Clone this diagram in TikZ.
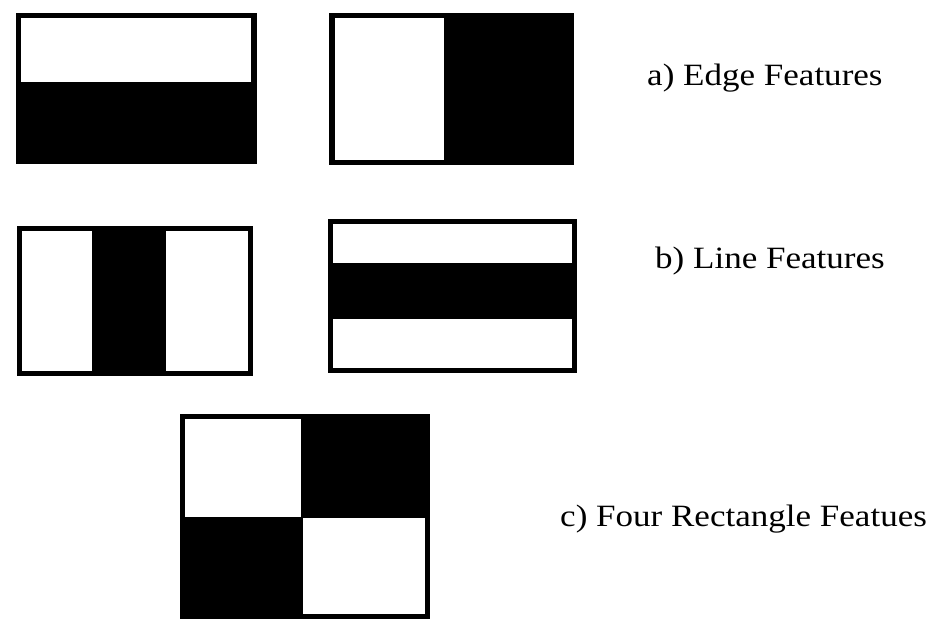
\documentclass[tikz,border=0pt]{standalone}
\usepackage{fontspec}
\setmainfont{Liberation Serif}
\tikzset{
  haarblack/.style={fill=black},
  haarwhite/.style={fill=white},
  haarlabel/.style={anchor=base west,inner sep=0pt,font=\fontsize{31}{36}\selectfont}
}
\newcommand{\widelbl}[1]{\scalebox{1.13}[1]{#1}}

\begin{document}
\begin{tikzpicture}[x=1pt,y=-1pt]
\useasboundingbox (0,0) rectangle (932,619);
% a) edge features
\fill[haarblack] (16,13) rectangle (257,164);
\fill[haarwhite] (21,18) rectangle (251,82);
\fill[haarblack] (329,13) rectangle (574,165);
\fill[haarwhite] (335,18) rectangle (444,160);
% b) line features
\fill[haarblack] (17,226) rectangle (253,376);
\fill[haarwhite] (22,231) rectangle (92,371);
\fill[haarwhite] (166,231) rectangle (248,371);
\fill[haarblack] (328,219) rectangle (577,373);
\fill[haarwhite] (333,224) rectangle (572,263);
\fill[haarwhite] (333,319) rectangle (572,368);
% c) four rectangle features
\fill[haarblack] (180,414) rectangle (430,619);
\fill[haarwhite] (185,419) rectangle (301,517);
\fill[haarwhite] (303,518) rectangle (425,614);
% labels
\node[haarlabel] (edgelbl) at (647,85) {\widelbl{a) Edge Features}};
\node[haarlabel] (linelbl) at (655,268) {\widelbl{b) Line Features}};
\node[haarlabel] (quadlbl) at (560,526) {\widelbl{c) Four Rectangle Featues}};
\end{tikzpicture}
\end{document}
